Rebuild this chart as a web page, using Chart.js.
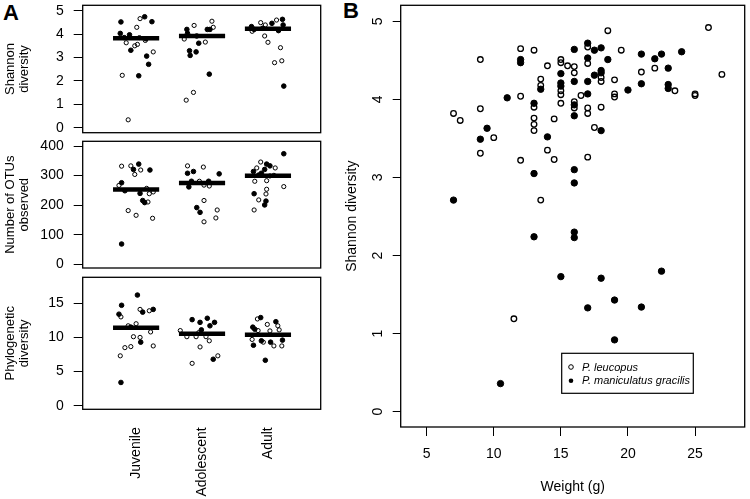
<!DOCTYPE html>
<html>
<head>
<meta charset="utf-8">
<script src="https://cdn.jsdelivr.net/npm/chart.js@4.4.1/dist/chart.umd.min.js"></script>
<style>
    body { margin: 0; background: #fff; width: 750px; height: 499px; position: relative; overflow: hidden;
           font-family: 'Liberation Sans', Arial, sans-serif; }
    canvas { position: absolute; }
    .tag { position: absolute; font-weight: bold; font-size: 22px; line-height: 22px; }
</style>
</head>
<body>
<div class="tag" style="left:3px;top:2px">A</div>
<div class="tag" style="left:343px;top:0px">B</div>
<canvas id="shannonChart" width="330" height="140" style="left:0;top:0"></canvas>
<canvas id="otuChart" width="330" height="137" style="left:0;top:136px"></canvas>
<canvas id="pdChart" width="330" height="227" style="left:0;top:272px"></canvas>
<canvas id="weightChart" width="410" height="499" style="left:340px;top:0"></canvas>
<script>
// Categorii și tick-uri
const AGE_GROUPS = ['Juvenile', 'Adolescent', 'Adult'];
const SPECIES = ['P. leucopus', 'P. maniculatus gracilis'];

const SHANNON_TICKS = [0, 1, 2, 3, 4, 5];
const OTU_TICKS = [0, 100, 200, 300, 400];
const PD_TICKS = [0, 5, 10, 15];
const WEIGHT_TICKS = [5, 10, 15, 20, 25];
const B_SHANNON_TICKS = [0, 1, 2, 3, 4, 5];

// Medii pe grupe de vârstă
const SHANNON_MEANS = [3.82, 3.92, 4.23];
const OTU_MEANS = [253, 275, 300];
const PD_MEANS = [11.4, 10.55, 10.37];

// Panel A: [poziție grupă (cu jitter), valoare]
const SHANNON_LEUCOPUS = [[0.85, 3.63], [0.98, 3.5], [1.02, 3.56], [1.01, 4.29], [1.06, 4.66], [1.14, 3.73], [1.26, 3.24],
    [0.79, 2.24], [0.88, 0.34], [1.05, 3.85], [1.73, 3.79], [1.88, 4.37], [2.15, 4.55], [2.17, 4.29], [2.05, 3.66],
    [1.87, 1.51], [1.76, 1.18], [2.76, 4.12], [2.89, 4.49], [2.96, 4.39], [3.13, 4.6], [2.95, 3.92], [3.0, 3.65],
    [3.19, 3.42], [3.21, 2.86], [3.1, 2.78]];
const SHANNON_GRACILIS = [[0.77, 4.52], [0.76, 4.03], [0.9, 3.97], [0.92, 3.31], [1.13, 4.74], [1.24, 4.53], [1.16, 3.06],
    [1.19, 2.71], [1.04, 2.22], [0.82, 3.85], [1.15, 3.8], [1.77, 4.2], [1.78, 4.03], [2.08, 4.2], [2.12, 4.2],
    [1.81, 3.29], [1.82, 3.09], [1.91, 3.24], [1.95, 3.61], [2.11, 2.29], [1.92, 3.92], [2.75, 4.32], [2.79, 4.2],
    [3.06, 4.46], [3.22, 4.63], [3.23, 4.39], [3.16, 4.15], [3.24, 1.78], [2.92, 4.25]];

const OTU_LEUCOPUS = [[0.78, 332], [0.92, 333], [0.98, 304], [1.07, 319], [0.74, 267], [1.16, 257], [1.2, 239], [1.26, 245],
    [1.18, 211], [0.88, 182], [1.0, 166], [1.25, 156], [1.78, 333], [2.02, 329], [1.96, 281], [2.03, 268], [2.11, 265],
    [2.03, 216], [2.23, 184], [2.03, 144], [2.21, 157], [2.89, 346], [2.83, 326], [3.11, 326], [3.03, 299], [3.09, 301],
    [2.8, 281], [2.98, 283], [3.24, 263], [2.98, 254], [2.97, 238], [2.86, 218], [2.79, 184]];
const OTU_GRACILIS = [[1.04, 339], [0.96, 321], [1.21, 319], [0.78, 276], [0.83, 249], [1.06, 240], [1.1, 216], [1.13, 209],
    [0.78, 69], [1.78, 308], [1.87, 314], [2.26, 306], [1.84, 281], [2.1, 281], [1.8, 262], [1.92, 192], [1.97, 176],
    [2.98, 339], [3.03, 333], [2.78, 314], [2.95, 321], [2.86, 302], [2.9, 308], [2.79, 239], [2.97, 214], [2.95, 201],
    [3.24, 374]];

const PD_LEUCOPUS = [[0.77, 13.0], [1.06, 14.1], [1.2, 13.9], [0.88, 11.7], [1.0, 12.0], [0.96, 10.1], [1.06, 10.0],
    [1.22, 10.8], [0.83, 8.5], [0.92, 8.65], [1.26, 8.75], [0.76, 7.3], [1.67, 11.0], [1.77, 10.1], [1.95, 10.7],
    [1.91, 10.1], [2.06, 10.1], [2.11, 9.5], [1.97, 8.6], [2.24, 7.3], [1.85, 6.2], [2.84, 12.7], [2.99, 11.9],
    [3.15, 11.7], [2.85, 11.0], [3.03, 10.95], [3.17, 11.1], [2.76, 9.7], [2.93, 9.3], [3.09, 8.75], [3.21, 8.75]];
const PD_GRACILIS = [[1.02, 16.2], [0.78, 14.7], [0.74, 13.4], [1.1, 13.7], [1.26, 14.1], [0.92, 11.5], [1.07, 9.3],
    [0.77, 3.4], [1.85, 12.6], [2.08, 12.8], [1.97, 12.2], [2.19, 12.2], [2.12, 11.7], [1.99, 11.1], [2.17, 6.8],
    [2.89, 12.9], [3.12, 12.3], [2.77, 11.5], [2.8, 11.2], [2.78, 8.85], [2.9, 9.5], [3.04, 9.3], [3.22, 9.6], [2.96, 6.65]];

// Panel B: greutate (g) și diversitate Shannon
const LEUCOPUS_WEIGHT = [7, 7.5, 9, 9, 9, 10, 11.5, 12, 12, 12, 13, 13, 13, 13, 13, 13.5, 13.5, 13.5, 14, 14, 14.5, 14.5,
    15, 15, 15, 15, 15, 15.5, 16, 16, 16, 16, 16.5, 17, 17, 17, 17, 17, 17.5, 18, 18, 18, 18.5, 19, 19, 19, 19.5,
    21, 22, 23.5, 25, 25, 26, 27];
const LEUCOPUS_SHANNON = [3.82, 3.73, 4.51, 3.88, 3.31, 3.51, 1.19, 4.65, 4.04, 3.22, 4.63, 3.9, 3.76, 3.68, 3.6, 4.26,
    4.18, 2.71, 4.43, 3.35, 3.75, 3.23, 4.51, 4.47, 4.11, 4.06, 3.95, 4.43, 4.42, 4.34, 3.97, 3.89, 4.05, 4.67, 4.46,
    3.89, 3.82, 3.26, 3.64, 4.28, 4.23, 3.9, 4.88, 4.25, 4.07, 4.03, 4.63, 4.35, 4.4, 4.11, 4.07, 4.05, 4.92, 4.32];
const GRACILIS_WEIGHT = [7, 9, 9.5, 10.5, 11, 12, 12, 13, 13, 13, 13.5, 14, 15, 15, 15, 15, 16, 16, 16, 16, 16, 16, 16, 16,
    17, 17, 17, 17, 17, 17.5, 17.5, 18, 18, 18, 18, 18, 18.5, 19, 19, 20, 21, 21, 21, 22, 22.5, 22.5, 23, 23, 23, 24];
const GRACILIS_SHANNON = [2.71, 3.49, 3.63, 0.36, 4.02, 4.51, 4.47, 3.95, 3.05, 2.24, 4.13, 3.52, 4.33, 4.21, 4.17, 1.73,
    4.64, 4.23, 3.93, 3.79, 3.1, 2.93, 2.3, 2.23, 4.72, 4.53, 4.23, 4.07, 1.33, 4.63, 4.31, 4.66, 4.37, 4.34, 3.6, 1.71,
    4.51, 1.43, 0.92, 4.12, 4.58, 4.2, 1.34, 4.52, 4.58, 1.8, 4.4, 4.19, 4.14, 4.61];

const FONT = "'Liberation Sans', Arial, sans-serif";
Chart.defaults.font.family = FONT;
Chart.defaults.color = '#000';

// Chenar complet în jurul zonei de desen
const boxPlugin = {
    id: 'box',
    afterDraw: (chart) => {
        const { ctx, chartArea: a } = chart;
        ctx.save();
        ctx.strokeStyle = '#000';
        ctx.lineWidth = 1.3;
        ctx.strokeRect(a.left, a.top, a.right - a.left, a.bottom - a.top);
        ctx.restore();
    }
};

const toPoints = (pairs) => pairs.map(([x, y]) => ({ x, y }));
const setTicks = (values) => (scale) => { scale.ticks = values.map(v => ({ value: v })); };
// dimensiune fixă a axei, fără padding suplimentar pentru etichete
const fixSize = (prop, size) => (scale) => {
    scale[prop] = size;
    scale.paddingTop = 0;
    scale.paddingBottom = 0;
    scale.paddingLeft = 0;
    scale.paddingRight = 0;
};

const meanLines = (means) => means.map((m, i) => ({
    data: [{ x: i + 1 - 0.35, y: m }, { x: i + 1 + 0.35, y: m }],
    showLine: true,
    borderColor: '#000',
    borderWidth: 4.5,
    pointRadius: 0,
    order: 0
}));

// Grafic din panelul A
const initPanelA = (id, cfg) => {
    const ctx = document.getElementById(id).getContext('2d');
    new Chart(ctx, {
        type: 'scatter',
        data: {
            datasets: [
                ...meanLines(cfg.means),
                { data: toPoints(cfg.gracilis), pointRadius: 2.3, borderWidth: 1, borderColor: '#000', backgroundColor: '#000', order: 1 },
                { data: toPoints(cfg.leucopus), pointRadius: 2.1, borderWidth: 1, borderColor: '#000', backgroundColor: 'rgba(0,0,0,0)', order: 2 }
            ]
        },
        options: {
            responsive: false,
            animation: false,
            events: [],
            layout: { padding: { left: 0, right: 9.3, top: 5.3, bottom: cfg.padBottom } },
            plugins: { legend: { display: false }, tooltip: { enabled: false } },
            scales: {
                x: {
                    type: 'linear',
                    min: 0.19,
                    max: 3.8,
                    display: cfg.showX,
                    afterBuildTicks: setTicks([1, 2, 3]),
                    afterFit: fixSize('height', cfg.showX ? 89.7 : 0),
                    grid: { display: false, drawTicks: false },
                    border: { display: false },
                    ticks: {
                        callback: (v) => AGE_GROUPS[v - 1],
                        minRotation: 90,
                        maxRotation: 90,
                        padding: 18,
                        font: { size: 14 }
                    }
                },
                y: {
                    min: cfg.min,
                    max: cfg.max,
                    afterBuildTicks: setTicks(cfg.ticks),
                    afterFit: fixSize('width', 82.7),
                    grid: { drawOnChartArea: false, tickLength: 9, color: '#000', lineWidth: 1 },
                    border: { display: false },
                    ticks: { padding: 10, font: { size: 14 } },
                    title: { display: true, text: cfg.title, font: { size: 13, lineHeight: 1.1 }, padding: { top: 3, bottom: 0 } }
                }
            }
        },
        plugins: [boxPlugin]
    });
};

// Etichete rotite pe axa y (panel B)
const rotatedYLabels = {
    id: 'rotatedYLabels',
    afterDraw: (chart) => {
        const { ctx } = chart;
        const s = chart.scales.y;
        ctx.save();
        ctx.font = `14px ${FONT}`;
        ctx.fillStyle = '#000';
        ctx.textAlign = 'center';
        ctx.textBaseline = 'middle';
        s.ticks.forEach(t => {
            ctx.save();
            ctx.translate(38.3, s.getPixelForValue(t.value));
            ctx.rotate(-Math.PI / 2);
            ctx.fillText(String(t.value), 0, 0);
            ctx.restore();
        });
        ctx.restore();
    }
};

// Legenda din interiorul panelului B
const insideLegend = {
    id: 'insideLegend',
    afterDraw: (chart) => {
        const { ctx } = chart;
        ctx.save();
        ctx.strokeStyle = '#000';
        ctx.lineWidth = 1.2;
        ctx.strokeRect(221.7, 353.3, 131.6, 40);
        ctx.font = `italic 11px ${FONT}`;
        ctx.textBaseline = 'middle';
        ctx.fillStyle = '#000';
        chart.data.datasets.forEach((ds, i) => {
            const y = 367 + i * 13.7;
            ctx.beginPath();
            ctx.arc(231, y, 2.3, 0, Math.PI * 2);
            if (ds.filled) ctx.fill(); else { ctx.lineWidth = 1; ctx.stroke(); }
            ctx.fillText(ds.label, 242, y + 0.5);
        });
        ctx.restore();
    }
};

const initPanelB = () => {
    const ctx = document.getElementById('weightChart').getContext('2d');
    new Chart(ctx, {
        type: 'scatter',
        data: {
            datasets: [
                {
                    label: SPECIES[0],
                    filled: false,
                    data: LEUCOPUS_WEIGHT.map((w, i) => ({ x: w, y: LEUCOPUS_SHANNON[i] })),
                    pointRadius: 2.8, borderWidth: 1.3, borderColor: '#000', backgroundColor: 'rgba(0,0,0,0)'
                },
                {
                    label: SPECIES[1],
                    filled: true,
                    data: GRACILIS_WEIGHT.map((w, i) => ({ x: w, y: GRACILIS_SHANNON[i] })),
                    pointRadius: 3.2, borderWidth: 1, borderColor: '#000', backgroundColor: '#000'
                }
            ]
        },
        options: {
            responsive: false,
            animation: false,
            events: [],
            layout: { padding: { left: 0, right: 5, top: 4.7, bottom: 0 } },
            plugins: { legend: { display: false }, tooltip: { enabled: false } },
            scales: {
                x: {
                    min: 3.064,
                    max: 28.7,
                    afterBuildTicks: setTicks(WEIGHT_TICKS),
                    afterFit: fixSize('height', 72),
                    grid: { drawOnChartArea: false, tickLength: 9, color: '#000', lineWidth: 1 },
                    border: { display: false },
                    ticks: { padding: 10, font: { size: 14 } },
                    title: { display: true, text: 'Weight (g)', font: { size: 14 }, padding: { top: 0, bottom: 3 } }
                },
                y: {
                    min: -0.196,
                    max: 5.205,
                    afterBuildTicks: setTicks(B_SHANNON_TICKS),
                    afterFit: fixSize('width', 60.7),
                    grid: { drawOnChartArea: false, tickLength: 8, color: '#000', lineWidth: 1 },
                    border: { display: false },
                    ticks: { display: false },
                    title: { display: true, text: 'Shannon diversity', font: { size: 14 }, padding: { top: 4, bottom: 0 } }
                }
            }
        },
        plugins: [boxPlugin, rotatedYLabels, insideLegend]
    });
};

document.addEventListener('DOMContentLoaded', () => {
    initPanelA('shannonChart', {
        means: SHANNON_MEANS, leucopus: SHANNON_LEUCOPUS, gracilis: SHANNON_GRACILIS,
        min: -0.21, max: 5.23, ticks: SHANNON_TICKS, title: ['Shannon', 'diversity'], showX: false, padBottom: 7.3
    });
    initPanelA('otuChart', {
        means: OTU_MEANS, leucopus: OTU_LEUCOPUS, gracilis: OTU_GRACILIS,
        min: -12, max: 416, ticks: OTU_TICKS, title: ['Number of OTUs', 'observed'], showX: false, padBottom: 4.7
    });
    initPanelA('pdChart', {
        means: PD_MEANS, leucopus: PD_LEUCOPUS, gracilis: PD_GRACILIS,
        min: -0.53, max: 18.8, ticks: PD_TICKS, title: ['Phylogenetic', 'diversity'], showX: true, padBottom: 0
    });
    initPanelB();
});
</script>
</body>
</html>
